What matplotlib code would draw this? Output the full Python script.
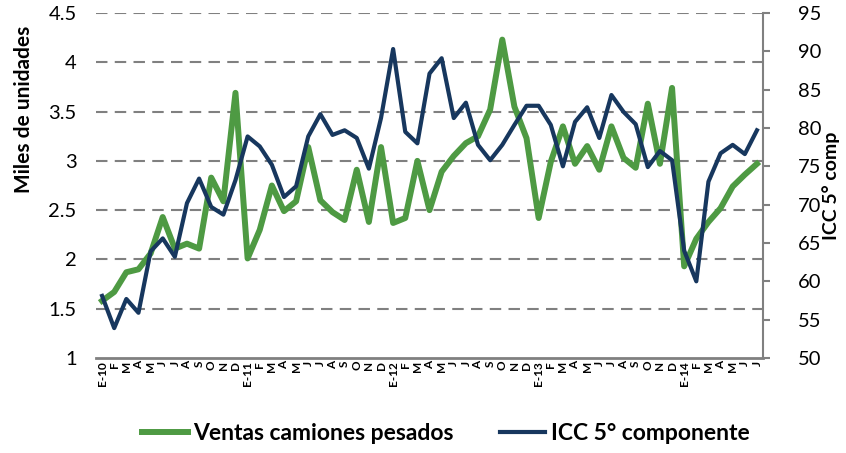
import matplotlib
matplotlib.use("Agg")
import matplotlib.pyplot as plt
import numpy as np

# monthly labels, Jan 2010 .. Jul 2014
months = ["E", "F", "M", "A", "M", "J", "J", "A", "S", "O", "N", "D"]
years = ["10", "11", "12", "13", "14"]
labels = []
for y in years:
    labels += [f"E-{y}"] + months[1:]
labels = labels[:55]

# heavy truck sales (thousands of units), left axis
ventas = [1.58, 1.67, 1.87, 1.90, 2.06, 2.43, 2.11, 2.16, 2.11, 2.83, 2.59, 3.69,
          2.01, 2.30, 2.75, 2.49, 2.59, 3.14, 2.60, 2.48, 2.40, 2.91, 2.38, 3.14,
          2.37, 2.42, 3.00, 2.50, 2.89, 3.05, 3.18, 3.25, 3.52, 4.23, 3.55, 3.23,
          2.42, 2.99, 3.35, 2.97, 3.15, 2.91, 3.35, 3.03, 2.93, 3.58, 2.97, 3.74,
          1.93, 2.21, 2.38, 2.52, 2.74, 2.86, 2.97]

# ICC 5th component, right axis
icc = [58.1, 53.9, 57.7, 55.9, 63.9, 65.6, 63.2, 70.2, 73.4, 69.7, 68.7, 73.2,
       78.9, 77.6, 75.2, 71.0, 72.4, 78.9, 81.8, 79.1, 79.7, 78.7, 74.7, 81.3,
       90.3, 79.5, 78.0, 87.1, 89.1, 81.3, 83.3, 77.8, 75.8, 77.8, 80.4, 82.9,
       82.9, 80.4, 75.0, 80.8, 82.7, 78.7, 84.3, 82.1, 80.5, 74.9, 77.0, 75.8,
       64.0, 60.0, 73.0, 76.7, 77.8, 76.6, 79.7]

green = "#4e9a43"
navy = "#17375e"
grey = "#808080"
plt.rcParams["font.family"] = ["Lato", "DejaVu Sans"]

fig = plt.figure(figsize=(8.46, 4.53), dpi=100)
ax = fig.add_axes([0.1135, 0.2097, 0.7884, 0.7616])
ax2 = ax.twinx()

x = np.arange(len(ventas))
l1, = ax.plot(x, ventas, color=green, lw=4.3, zorder=3)
l2, = ax2.plot(x, icc, color=navy, lw=3.0, zorder=4)

ax.set_xlim(-0.5, len(ventas) - 0.5)
ax.set_ylim(1, 4.5)
ax.set_yticks(np.arange(1, 4.51, 0.5))
ax.set_yticklabels(["1", "1.5", "2", "2.5", "3", "3.5", "4", "4.5"], fontsize=14.5)
ax2.set_ylim(50, 95)
ax2.set_yticks(np.arange(50, 96, 5))
ax2.set_yticklabels([str(v) for v in range(50, 96, 5)], fontsize=14.5)

for v in np.arange(1.5, 4.51, 0.5):
    ax.axhline(v, color=grey, lw=1.5, ls=(0, (5.5, 3.5)), zorder=1)

ax.set_xticks(x)
ax.set_xticklabels(labels, rotation=90, fontsize=8.5, fontweight="bold")
ax.tick_params(axis="x", length=0, pad=2)
ax.tick_params(axis="y", length=0, pad=14)
ax2.tick_params(axis="y", length=5, width=1.5, color=grey, pad=20)

for a in (ax, ax2):
    for s in ("top", "left", "right", "bottom"):
        a.spines[s].set_visible(False)
ax.spines["bottom"].set_visible(True)
ax.spines["bottom"].set_color(grey)
ax.spines["bottom"].set_linewidth(2)
ax2.spines["right"].set_visible(True)
ax2.spines["right"].set_color(grey)
ax2.spines["right"].set_linewidth(1.5)

ax.set_ylabel("Miles de unidades", fontsize=15, fontweight="bold")
ax.yaxis.set_label_coords(-0.093, 0.72)
ax2.set_ylabel("ICC 5° comp", fontsize=14, fontweight="bold", rotation=90)
ax2.yaxis.set_label_coords(1.088, 0.5)

fig.legend([l1, l2], ["Ventas camiones pesados", "ICC 5° componente"],
           loc="lower center", bbox_to_anchor=(0.527, -0.01), ncol=2, frameon=False,
           prop={"size": 16.5, "weight": "bold"}, borderaxespad=0.2,
           handlelength=2.0, handletextpad=0.25, columnspacing=2.0)

fig.savefig("out.png", dpi=100)
